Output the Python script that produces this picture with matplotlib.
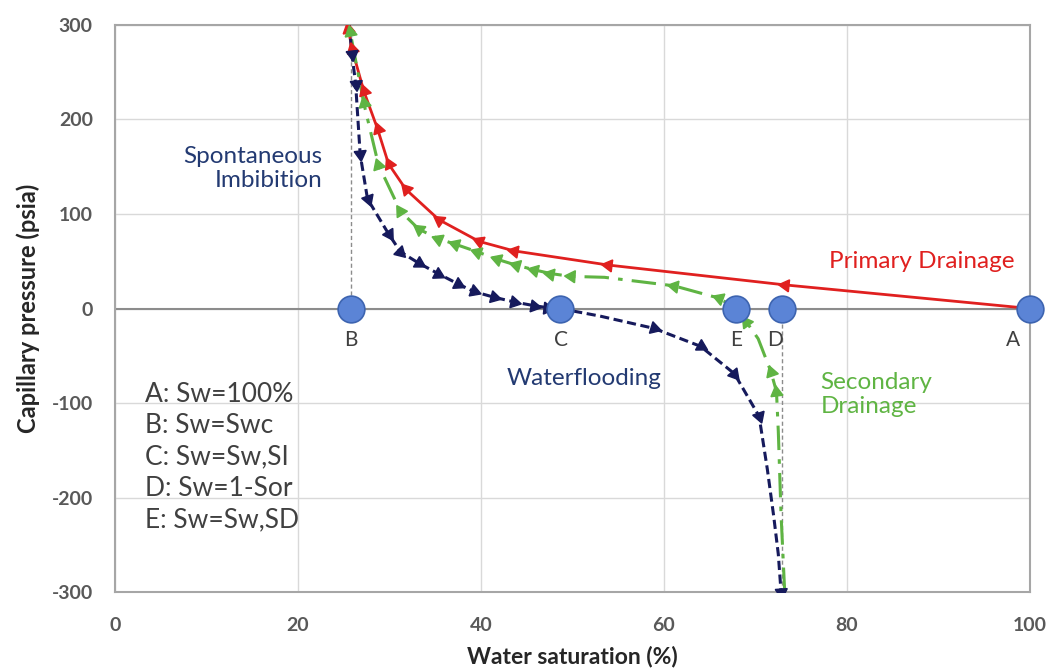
import numpy as np
import matplotlib.pyplot as plt

plt.rcParams['font.family'] = ['Lato', 'DejaVu Sans']
plt.rcParams['axes.unicode_minus'] = False

# primary drainage (A -> B), red
pd_x = [100, 73.2, 53.9, 43.6, 39.8, 35.4, 31.8, 29.9, 28.7, 27.2, 25.9, 25.5]
pd_y = [0, 25, 46, 61, 71, 94, 126, 153, 190, 230, 275, 296]

# spontaneous imbibition (B -> C), navy
si_x = [25.6, 25.9, 26.3, 26.8, 27.6, 29.9, 31.2, 33.2, 35.3, 37.5, 39.2, 41.4, 43.6, 45.8, 47.2, 48.6]
si_y = [300, 269, 238, 163, 116, 79, 60, 48, 37, 26, 18, 12, 7, 3, 1, 0]

# waterflooding (C -> D), navy
wf_x = [48.6, 53.0, 58.9, 64.0, 67.7, 70.4, 71.3, 72.0, 72.5, 72.8]
wf_y = [0, -8, -21, -40, -69, -114, -170, -220, -260, -300]

# secondary drainage (D -> E -> B), green
sd_x = [73.2, 72.8, 72.5, 72.3, 71.7, 70.3, 69.0, 67.9, 66.0, 61.1, 53.5, 49.8, 47.6, 45.8,
        43.8, 41.8, 39.6, 37.2, 35.3, 33.2, 31.2, 28.8, 27.2, 25.7]
sd_y = [-300, -218, -130, -88, -67, -32, -14, 0, 11, 24, 33, 34, 37, 41,
        46, 52, 60, 68, 74, 84, 103, 152, 217, 293]

# key points
pt_names = ['A', 'B', 'C', 'D', 'E']
pt_x = [100, 25.8, 48.6, 72.9, 67.9]
legend_lines = ['A: Sw=100%', 'B: Sw=Swc', 'C: Sw=Sw,SI', 'D: Sw=1-Sor', 'E: Sw=Sw,SD']

RED = '#e0201f'
NAVY = '#161a5c'
GREEN = '#5fb443'
TXT_NAVY = '#233a72'

fig = plt.figure(figsize=(10.52, 6.70), dpi=100)
ax = fig.add_axes([0.1093, 0.1164, 0.8697, 0.8463])
ax.set_xlim(0, 100)
ax.set_ylim(-300, 300)
ax.set_xticks(range(0, 101, 20))
ax.set_yticks(range(-300, 301, 100))
ax.grid(color='#d9d9d9', lw=1)
ax.set_axisbelow(True)
for s in ax.spines.values():
    s.set_color('#a6a6a6')
    s.set_linewidth(1.5)
ax.tick_params(length=0, labelsize=14, labelcolor='#595959')
ax.tick_params(axis='x', pad=18)
ax.tick_params(axis='y', pad=16)
for lab in ax.get_xticklabels() + ax.get_yticklabels():
    lab.set_fontweight('bold')
ax.axhline(0, color='#8c8c8c', lw=1.5, zorder=1)
ax.set_xlabel('Water saturation (%)', fontsize=16.5, fontweight='bold', color='#262626')
ax.set_ylabel('Capillary pressure (psia)', fontsize=17, fontweight='bold', color='#262626')
ax.xaxis.label.set_va('center')
ax.yaxis.label.set_va('center')
ax.xaxis.set_label_coords(0.5, -0.113)
ax.yaxis.set_label_coords(-0.095, 0.5)

# vertical guide lines
ax.vlines(pt_x[1], 0, 300, colors='#8c8c8c', linestyles=(0, (3, 2)), lw=1, zorder=1)
ax.vlines(pt_x[3], -300, 0, colors='#8c8c8c', linestyles=(0, (3, 2)), lw=1, zorder=1)


def arrows(xs, ys, idx, color, size=10):
    # triangle markers pointing along the path direction
    fig.canvas.draw()
    pts = ax.transData.transform(np.column_stack([xs, ys]))
    for i in idx:
        j0 = max(i - 1, 0)
        j1 = min(i + 1, len(xs) - 1)
        d = pts[j1] - pts[j0]
        ang = np.degrees(np.arctan2(d[1], d[0])) - 90
        ax.plot(xs[i], ys[i], marker=(3, 0, ang), ms=size, color=color, mec=color, zorder=4, ls='none')


ax.plot(pd_x, pd_y, color=RED, lw=2, zorder=3)
arrows(pd_x, pd_y, range(1, len(pd_x)), RED)

ax.plot(sd_x, sd_y, color=GREEN, lw=2.2, ls=(0, (8, 3, 1.5, 3)), zorder=3)
arrows(sd_x, sd_y, [3, 4, 6, 8, 9] + list(range(11, len(sd_x))), GREEN)

ax.plot(si_x, si_y, color=NAVY, lw=2.2, ls=(0, (3, 1.5)), zorder=3)
arrows(si_x, si_y, range(1, len(si_x) - 1), NAVY)

ax.plot(wf_x, wf_y, color=NAVY, lw=2.2, ls=(0, (3, 1.5)), zorder=3)
arrows(wf_x, wf_y, [2, 3, 4, 5, len(wf_x) - 1], NAVY)

ax.scatter(pt_x, [0] * len(pt_x), s=370, color='#5b84d6', edgecolor='#3d64b0', lw=1.2, zorder=5, clip_on=False)

lab_dx = [-1.8, 0, 0.2, -0.8, 0]
for n, x, dx in zip(pt_names, pt_x, lab_dx):
    ax.text(x + dx, -33, n, ha='center', va='center', fontsize=15, color='#404040')

ax.text(22.7, 148, 'Spontaneous\nImbibition', ha='right', va='center', multialignment='right',
        fontsize=17.5, color=TXT_NAVY, linespacing=1.2)
ax.text(88.2, 50, 'Primary Drainage', ha='center', va='center', fontsize=17.5, color=RED)
ax.text(51.3, -74, 'Waterflooding', ha='center', va='center', fontsize=17.5, color=TXT_NAVY)
ax.text(77.1, -91, 'Secondary\nDrainage', ha='left', va='center', fontsize=17.5, color=GREEN, linespacing=1.2)

ys = [-91, -124, -157, -190, -224]
for t, yy in zip(legend_lines, ys):
    ax.text(3.3, yy, t, ha='left', va='center', fontsize=19, color='#404040')

fig.savefig('out.png', dpi=100)
